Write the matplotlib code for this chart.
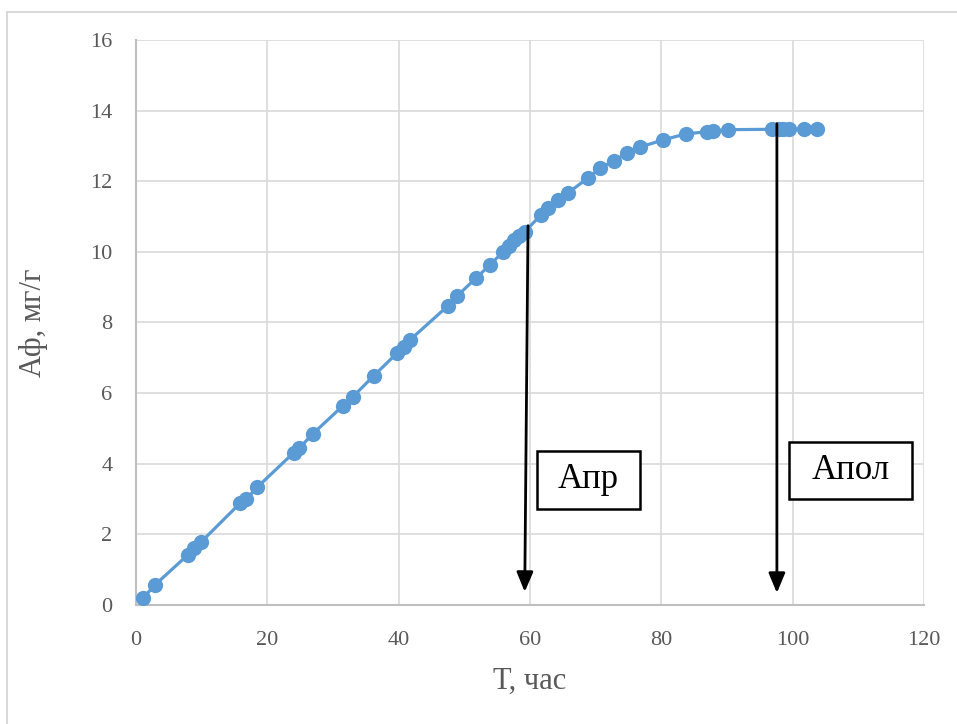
import matplotlib.pyplot as plt
from matplotlib.patches import Rectangle

# Adsorption kinetics: time (h) vs adsorbed amount (mg/g)
t_hours = [1.1, 2.9, 7.9, 8.9, 9.9, 15.9, 16.8, 18.5, 24.0, 24.9, 26.9, 31.5,
           33.0, 36.2, 39.8, 40.8, 41.7, 47.5, 48.9, 51.8, 53.9, 55.9, 56.8,
           57.6, 58.4, 59.2, 61.7, 62.7, 64.3, 65.8, 68.9, 70.7, 72.8, 74.8,
           76.8, 80.3, 83.7, 86.9, 87.9, 90.2, 96.8, 97.9, 98.6, 99.5, 101.7,
           103.7]
a_f = [0.20, 0.57, 1.42, 1.61, 1.78, 2.89, 3.00, 3.34, 4.31, 4.45, 4.84, 5.64,
       5.89, 6.49, 7.14, 7.31, 7.50, 8.47, 8.75, 9.26, 9.63, 10.00, 10.17,
       10.34, 10.45, 10.57, 11.05, 11.25, 11.47, 11.67, 12.10, 12.38, 12.58,
       12.80, 12.97, 13.17, 13.34, 13.40, 13.43, 13.46, 13.47, 13.47, 13.47,
       13.48, 13.49, 13.49]

x_ticks = [0, 20, 40, 60, 80, 100, 120]
y_ticks = [0, 2, 4, 6, 8, 10, 12, 14, 16]

# marker arrows: (x top, y top, x bottom, y bottom)
arrow_pr = (59.7, 10.74, 59.2, 0.37)
arrow_pol = (97.6, 13.63, 97.6, 0.34)

plt.rcParams['font.family'] = ['Liberation Serif', 'DejaVu Serif']
gray = '#595959'
blue = '#5B9BD5'

fig = plt.figure(figsize=(9.57, 7.24), dpi=100)
ax = fig.add_axes([0.1421, 0.1644, 0.8234, 0.7804])

# outer chart frame
fig.patches.append(Rectangle((7 / 957, -0.05), 1.1, 1 - 12 / 724 + 0.05,
                             transform=fig.transFigure, fill=False,
                             edgecolor='#D9D9D9', lw=1.5))

ax.plot(t_hours, a_f, color=blue, lw=2.3, marker='o', markersize=11,
        markeredgewidth=0, zorder=3)

ax.set_xlim(0, 120)
ax.set_ylim(0, 16)
ax.set_xticks(x_ticks)
ax.set_yticks(y_ticks)
ax.grid(True, color='#D9D9D9', lw=1.2)
ax.set_axisbelow(True)
for side in ['top', 'right']:
    ax.spines[side].set_visible(False)
for side in ['left', 'bottom']:
    ax.spines[side].set_color('#BFBFBF')
    ax.spines[side].set_linewidth(1.5)
ax.tick_params(length=0, labelsize=16, labelcolor=gray)
ax.tick_params(axis='y', pad=17)
ax.tick_params(axis='x', pad=19)

ax.set_xlabel('Т, час', fontsize=22, color=gray, labelpad=12)
ax.set_ylabel('Аф, мг/г', fontsize=22, color=gray, labelpad=30)

for x0, y0, x1, y1 in [arrow_pr, arrow_pol]:
    ax.annotate('', xy=(x1, y1), xytext=(x0, y0),
                arrowprops=dict(arrowstyle='-|>,head_length=0.6,head_width=0.25',
                                color='black', lw=2, mutation_scale=20,
                                shrinkA=0, shrinkB=0), zorder=4)

# labelled boxes next to the arrows (pixel layout)
for text, (x0, y0, x1, y1) in [('Апр', (537, 451, 640, 509)),
                               ('Апол', (789, 442, 912, 499))]:
    fig.patches.append(Rectangle((x0 / 957, 1 - y1 / 724), (x1 - x0) / 957,
                                 (y1 - y0) / 724, transform=fig.transFigure,
                                 facecolor='white', edgecolor='black', lw=1.8,
                                 zorder=5))
    fig.text((x0 + x1) / 2 / 957, 1 - (y0 + y1) / 2 / 724, text, fontsize=25,
             ha='center', va='center', color='black', zorder=6)

fig.savefig('out.png', dpi=100)
